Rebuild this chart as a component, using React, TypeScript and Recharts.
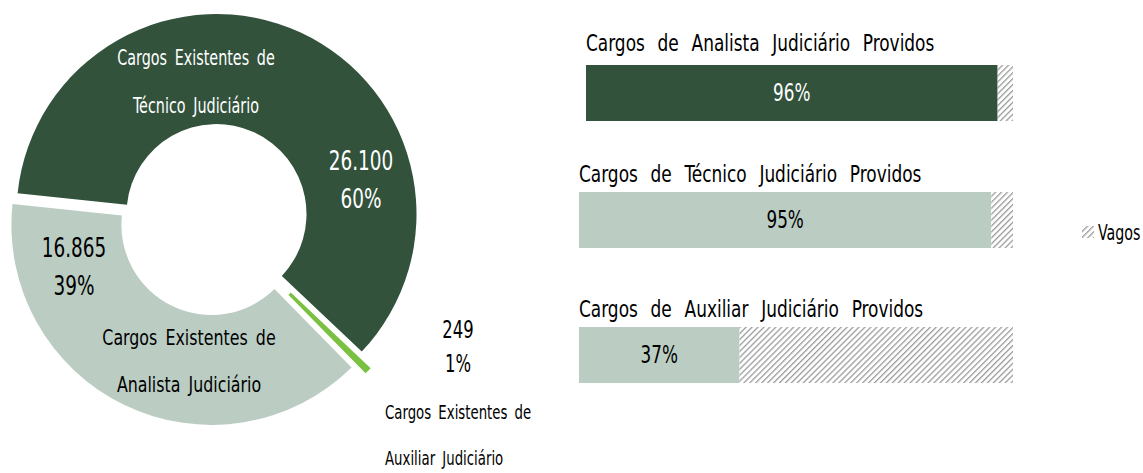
import React from 'react';
import { PieChart, Pie, Cell, BarChart, Bar, XAxis, YAxis, LabelList } from 'recharts';

// ---------- data ----------
const cargoNames = ['Técnico Judiciário', 'Auxiliar Judiciário', 'Analista Judiciário'];
const cargoValues = [26100, 249, 16865];
const cargoColors = ['#32523C', '#7AC142', '#BBCDC3'];

const barTitles = [
  'Cargos de Analista Judiciário Providos',
  'Cargos de Técnico Judiciário Providos',
  'Cargos de Auxiliar Judiciário Providos',
];
const providosPct = [96.4, 95, 37];
const vagosPct = [3.6, 5, 63];
const barColors = ['#32523C', '#BBCDC3', '#BBCDC3'];
const barLabelColors = ['#FFFFFF', '#000000', '#000000'];
const legendLabel = 'Vagos';

// ---------- styles / layout ----------
const FONT = "'DejaVu Sans Condensed', 'DejaVu Sans', sans-serif";
const HATCH = '#9C9C9C';
const BASE_CX = 214;
const BASE_CY = 219.5;
const START_ANGLE = 174;
const INNER_R = 90;
const OUTER_R = 200;
const EXPLODE = [6, 16, 6];

// label layout relative to the pie centre (x) and absolute baselines (y), per slice index
const LABEL_LAYOUT = [
  {
    name: { x: -18, y: [65, 113], anchor: 'middle', color: '#FFFFFF', size: 21, sx: 0.76 },
    val: { x: 147, y: [170, 208], anchor: 'middle', color: '#FFFFFF', size: 27, sx: 0.76 },
  },
  {
    name: { x: 171, y: [419, 465], anchor: 'start', color: '#000000', size: 20, sx: 0.74 },
    val: { x: 244, y: [338, 372], anchor: 'middle', color: '#000000', size: 24, sx: 0.76 },
  },
  {
    name: { x: -25, y: [345, 392], anchor: 'middle', color: '#000000', size: 22, sx: 0.8 },
    val: { x: -140, y: [257, 295], anchor: 'middle', color: '#000000', size: 27, sx: 0.76 },
  },
];

const total = cargoValues.reduce((a, b) => a + b, 0);
const pieData = cargoNames.map((n, i) => ({ name: n, value: cargoValues[i] }));

const formatThousands = (v: number) => String(v).replace(/\B(?=(\d{3})+(?!\d))/g, '.');

const midAngles = (() => {
  let acc = 0;
  return cargoValues.map((v) => {
    const a0 = START_ANGLE - (acc / total) * 360;
    acc += v;
    const a1 = START_ANGLE - (acc / total) * 360;
    return (a0 + a1) / 2;
  });
})();

const offsets = midAngles.map((m, i) => {
  const r = (m * Math.PI) / 180;
  return { dx: EXPLODE[i] * Math.cos(r), dy: -EXPLODE[i] * Math.sin(r) };
});

const NarrowText = ({ x, y, sx, anchor, color, size, ws, children }: any) => (
  <text
    transform={`translate(${x},${y}) scale(${sx},1)`}
    x={0}
    y={0}
    textAnchor={anchor}
    fill={color}
    fontFamily={FONT}
    fontSize={size}
    style={{ wordSpacing: ws || 0 }}
  >
    {children}
  </text>
);

const renderPieLabel = (props: any) => {
  const i = props.index;
  const lay = LABEL_LAYOUT[i];
  const pct = Math.round((cargoValues[i] / total) * 100) + '%';
  const valLines = [formatThousands(cargoValues[i]), pct];
  const nameLines = ['Cargos Existentes de', cargoNames[i]];
  return (
    <g key={'lbl' + i}>
      {valLines.map((t, k) => (
        <NarrowText key={'v' + k} x={BASE_CX + lay.val.x} y={lay.val.y[k]} sx={lay.val.sx} anchor={lay.val.anchor} color={lay.val.color} size={lay.val.size}>
          {t}
        </NarrowText>
      ))}
      {nameLines.map((t, k) => (
        <NarrowText key={'n' + k} x={BASE_CX + lay.name.x} y={lay.name.y[k]} sx={lay.name.sx} anchor={lay.name.anchor} color={lay.name.color} size={lay.name.size} ws={4}>
          {t}
        </NarrowText>
      ))}
    </g>
  );
};

const BAR_BOXES = [
  { left: 586, top: 65, width: 427, height: 56, titleBase: 51 },
  { left: 579, top: 192, width: 434, height: 56, titleBase: 182 },
  { left: 579, top: 327, width: 434, height: 56, titleBase: 317 },
];

const makeBarLabel = (color: string) => (p: any) => {
  const cx = Number(p.x) + Number(p.width) / 2;
  const cy = Number(p.y) + Number(p.height) / 2;
  return (
    <NarrowText x={cx} y={cy + 8} sx={0.78} anchor="middle" color={color} size={24}>
      {Math.round(Number(p.value)) + '%'}
    </NarrowText>
  );
};

export default function App() {
  return (
    <div style={{ position: 'absolute', left: 0, top: 0, width: 1143, height: 473, background: '#fff', overflow: 'hidden', fontFamily: FONT }}>
      <svg width={0} height={0} style={{ position: 'absolute' }}>
        <defs>
          <pattern id="hatch" patternUnits="userSpaceOnUse" width={4.2} height={4.2} patternTransform="rotate(45)">
            <rect width={4.2} height={4.2} fill="#FFFFFF" />
            <line x1={0} y1={0} x2={0} y2={4.2} stroke={HATCH} strokeWidth={2.6} />
          </pattern>
        </defs>
      </svg>

      <div style={{ position: 'absolute', left: 0, top: 0 }}>
        <PieChart width={620} height={473} margin={{ top: 0, right: 0, bottom: 0, left: 0 }}>
          {cargoNames.map((_, own) => (
            <Pie
              key={'pie' + own}
              data={pieData}
              dataKey="value"
              nameKey="name"
              cx={BASE_CX + offsets[own].dx}
              cy={BASE_CY + offsets[own].dy}
              innerRadius={INNER_R}
              outerRadius={OUTER_R}
              startAngle={START_ANGLE}
              endAngle={START_ANGLE - 360}
              stroke="none"
              isAnimationActive={false}
              labelLine={false}
              label={own === cargoNames.length - 1 ? renderPieLabel : false}
            >
              {pieData.map((_, i) => (
                <Cell key={'c' + i} fill={i === own ? cargoColors[i] : 'none'} stroke="none" />
              ))}
            </Pie>
          ))}
        </PieChart>
      </div>

      {BAR_BOXES.map((box, i) => (
        <div key={'bar' + i} style={{ position: 'absolute', left: box.left, top: box.top }}>
          <BarChart
            width={box.width}
            height={box.height}
            layout="vertical"
            data={[{ name: barTitles[i], providos: providosPct[i], vagos: vagosPct[i] }]}
            margin={{ top: 0, right: 0, bottom: 0, left: 0 }}
            barCategoryGap={0}
          >
            <XAxis type="number" domain={[0, 100]} hide />
            <YAxis type="category" dataKey="name" hide />
            <Bar dataKey="providos" stackId="a" fill={barColors[i]} isAnimationActive={false}>
              <LabelList dataKey="providos" content={makeBarLabel(barLabelColors[i])} />
            </Bar>
            <Bar dataKey="vagos" stackId="a" fill="url(#hatch)" isAnimationActive={false} />
          </BarChart>
        </div>
      ))}

      <svg width={1143} height={473} style={{ position: 'absolute', left: 0, top: 0, pointerEvents: 'none' }}>
        {BAR_BOXES.map((box, i) => (
          <NarrowText key={'t' + i} x={box.left} y={box.titleBase} sx={0.82} anchor="start" color="#000000" size={23} ws={9}>
            {barTitles[i]}
          </NarrowText>
        ))}
        <rect x={1082} y={226} width={12} height={12} fill="url(#hatch)" />
        <NarrowText x={1098} y={240} sx={0.72} anchor="start" color="#000000" size={22}>
          {legendLabel}
        </NarrowText>
      </svg>
    </div>
  );
}
